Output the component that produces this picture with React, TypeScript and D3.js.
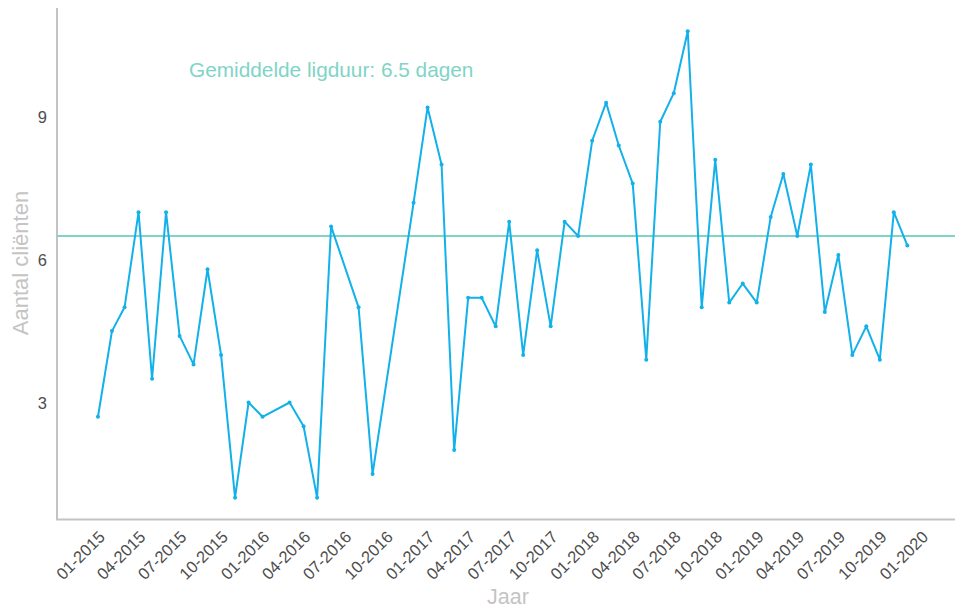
import React from "react";
import * as d3 from "d3";

const months: string[] = [
  "2015-01","2015-02","2015-03","2015-04","2015-05","2015-06","2015-07","2015-08","2015-09","2015-10","2015-11","2015-12",
  "2016-01","2016-03","2016-04","2016-05","2016-06","2016-08","2016-09","2016-12",
  "2017-01","2017-02","2017-03","2017-04","2017-05","2017-06","2017-07","2017-08","2017-09","2017-10","2017-11","2017-12",
  "2018-01","2018-02","2018-03","2018-04","2018-05","2018-06","2018-07","2018-08","2018-09","2018-10","2018-11","2018-12",
  "2019-01","2019-02","2019-03","2019-04","2019-05","2019-06","2019-07","2019-08","2019-09","2019-10","2019-11","2019-12",
];
const values: number[] = [
  2.7, 4.5, 5.0, 7.0, 3.5, 7.0, 4.4, 3.8, 5.8, 4.0, 1.0, 3.0,
  2.7, 3.0, 2.5, 1.0, 6.7, 5.0, 1.5, 7.2,
  9.2, 8.0, 2.0, 5.2, 5.2, 4.6, 6.8, 4.0, 6.2, 4.6, 6.8, 6.5,
  8.5, 9.3, 8.4, 7.6, 3.9, 8.9, 9.5, 10.8, 5.0, 8.1, 5.1, 5.5,
  5.1, 6.9, 7.8, 6.5, 8.0, 4.9, 6.1, 4.0, 4.6, 3.9, 7.0, 6.3,
];
const yTicks: number[] = [3, 6, 9];
const meanValue = 6.5;
const titleText = "Gemiddelde ligduur: 6.5 dagen";
const xTitle = "Jaar";
const yTitle = "Aantal cliënten";

const W = 955;
const H = 609;
const FONT = "'Liberation Sans', Arial, Helvetica, sans-serif";

export default function App() {
  const parse = d3.timeParse("%Y-%m");
  const data = months.map((m, i) => ({ date: parse(m) as Date, value: values[i] }));

  const [d0, d1] = d3.extent(data, (d) => d.date) as [Date, Date];
  const span = d1.getTime() - d0.getTime();
  const x = d3
    .scaleTime()
    .domain([new Date(d0.getTime() - span * 0.05), new Date(d1.getTime() + span * 0.05)])
    .range([57.5, 947.8]);

  const [v0, v1] = d3.extent(values) as [number, number];
  const vp = (v1 - v0) * 0.05;
  const y = d3.scaleLinear().domain([v0 - vp, v1 + vp]).range([521, 8]);

  const line = d3
    .line<{ date: Date; value: number }>()
    .x((d) => x(d.date))
    .y((d) => y(d.value));

  const xTickDates = d3.timeMonth.every(3)!.range(new Date(2015, 0, 1), new Date(2020, 0, 2));
  const fmt = d3.timeFormat("%m-%Y");

  const lineColor = "#12b1ea";
  const teal = "#7fd4c7";
  const axisColor = "#c3c3c3";

  return (
    <svg
      width={W}
      height={H}
      style={{ position: "absolute", left: 0, top: 0, background: "#fff" }}
      fontFamily={FONT}
    >
      {/* axes */}
      <line x1={57} x2={57} y1={8} y2={520} stroke={axisColor} strokeWidth={2} />
      <line x1={56} x2={955} y1={519.5} y2={519.5} stroke={axisColor} strokeWidth={2} />

      {/* y ticks */}
      {yTicks.map((t) => (
        <text
          key={t}
          x={47}
          y={y(t)}
          textAnchor="end"
          dominantBaseline="central"
          fontSize={16.5}
          fill="#4d4d4d"
        >
          {t}
        </text>
      ))}

      {/* x ticks */}
      {xTickDates.map((d) => {
        const tx = x(d) + 8;
        const ty = 538;
        return (
          <text
            key={d.getTime()}
            x={tx}
            y={ty}
            textAnchor="end"
            fontSize={16.5}
            fill="#4d4d4d"
            transform={`rotate(-45 ${tx} ${ty})`}
          >
            {fmt(d)}
          </text>
        );
      })}

      {/* mean line */}
      <line x1={57} x2={955} y1={y(meanValue)} y2={y(meanValue)} stroke={teal} strokeWidth={2} />
      <text x={189} y={77} fontSize={20.8} fill={teal}>
        {titleText}
      </text>

      {/* series */}
      <path d={line(data) || ""} fill="none" stroke={lineColor} strokeWidth={2} strokeLinejoin="round" />
      {data.map((d, i) => (
        <circle key={i} cx={x(d.date)} cy={y(d.value)} r={2} fill={lineColor} />
      ))}

      {/* axis titles */}
      <text x={508} y={604} textAnchor="middle" fontSize={21.5} fill="#c4c4c4">
        {xTitle}
      </text>
      <text
        x={28}
        y={263}
        textAnchor="middle"
        fontSize={22}
        fill="#c4c4c4"
        transform={`rotate(-90 28 263)`}
      >
        {yTitle}
      </text>
    </svg>
  );
}
